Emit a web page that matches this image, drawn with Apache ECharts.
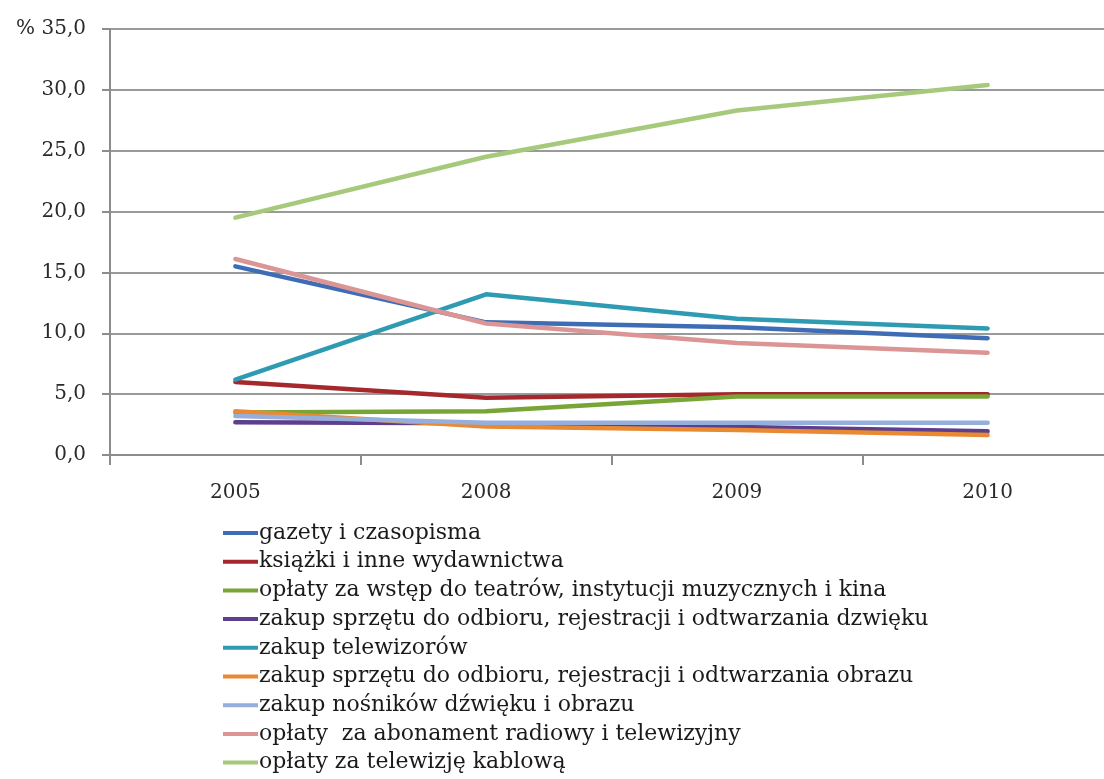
<!DOCTYPE html>
<html>
<head>
<meta charset="utf-8">
<title>Wydatki na kulturę</title>
<script src="https://cdn.jsdelivr.net/npm/echarts@6/dist/echarts.min.js"></script>
<style>
  html, body { margin: 0; padding: 0; background: #fff; overflow: hidden; }
  #chart { width: 1104px; height: 779px; }
</style>
</head>
<body>
<div id="chart"></div>
<script>
    'use strict';

    /*--------------- data -------------*/
    var years = ['2005', '2008', '2009', '2010'];

    var gazety      = [15.5, 10.9, 10.5, 9.6];
    var ksiazki     = [6.0, 4.7, 5.0, 5.0];
    var teatry      = [3.5, 3.6, 4.8, 4.8];
    var sprzetDzw   = [2.7, 2.6, 2.3, 1.95];
    var telewizory  = [6.2, 13.2, 11.2, 10.4];
    var sprzetObr   = [3.6, 2.35, 2.05, 1.65];
    var nosniki     = [3.2, 2.65, 2.65, 2.65];
    var abonament   = [16.1, 10.8, 9.2, 8.4];
    var kablowa     = [19.5, 24.5, 28.3, 30.4];

    var yTicks = [0, 5, 10, 15, 20, 25, 30, 35];

    var seriesNames = [
        'gazety i czasopisma',
        'książki i inne wydawnictwa',
        'opłaty za wstęp do teatrów, instytucji muzycznych i kina',
        'zakup sprzętu do odbioru, rejestracji i odtwarzania dzwięku',
        'zakup telewizorów',
        'zakup sprzętu do odbioru, rejestracji i odtwarzania obrazu',
        'zakup nośników dźwięku i obrazu',
        'opłaty  za abonament radiowy i telewizyjny',
        'opłaty za telewizję kablową'
    ];
    var seriesData = [gazety, ksiazki, teatry, sprzetDzw, telewizory, sprzetObr, nosniki, abonament, kablowa];
    var colors = ['#3E6DB5', '#A5282C', '#77A536', '#5E3F8E', '#2F9BB3', '#E98A33', '#95AEDC', '#DA9594', '#A7C97B'];

    var serif = '"DejaVu Serif", "Liberation Serif", serif';

    var myChart = echarts.init(document.getElementById('chart'));

    var series = seriesNames.map(function(name, i) {
        return {
            name: name,
            type: 'line',
            data: seriesData[i],
            smooth: false,
            showSymbol: false,
            symbol: 'none',
            lineStyle: { width: 4.5, color: colors[i], cap: 'round', join: 'round' },
            itemStyle: { color: colors[i] }
        };
    });

    var option = {
        animation: false,
        backgroundColor: '#fff',
        color: colors,
        // plot runs past the right edge of the picture, like the cropped original
        grid: { left: 110, top: 29, width: 1003, bottom: 324, outerBoundsMode: 'none', containLabel: false },
        legend: {
            orient: 'vertical',
            left: 223,
            top: 522,
            height: 257,
            icon: 'rect',
            itemWidth: 35,
            itemHeight: 4,
            itemGap: 6.7,
            padding: 0,
            textStyle: {
                fontFamily: serif,
                fontSize: 22,
                lineHeight: 20,
                color: '#1a1a1a',
                padding: [0, 0, 0, -4]
            },
            data: seriesNames
        },
        xAxis: {
            type: 'category',
            data: years,
            boundaryGap: true,
            axisLine: { lineStyle: { color: '#8c8c8c', width: 2 } },
            axisTick: { show: true, length: 10, lineStyle: { color: '#8c8c8c', width: 2 } },
            axisLabel: { fontFamily: serif, fontSize: 20, color: '#2a2a2a', margin: 28 }
        },
        yAxis: {
            type: 'value',
            min: yTicks[0],
            max: yTicks[yTicks.length - 1],
            interval: 5,
            axisLine: { show: true, lineStyle: { color: '#8c8c8c', width: 2 } },
            axisTick: { show: true, length: 8, lineStyle: { color: '#8c8c8c', width: 2 } },
            splitLine: { lineStyle: { color: '#9a9a9a', width: 2 } },
            axisLabel: {
                fontFamily: serif,
                fontSize: 20,
                color: '#2a2a2a',
                margin: 24,
                formatter: function(v) {
                    var s = v.toFixed(1).replace('.', ',');
                    return v === 35 ? '% ' + s : s;
                }
            }
        },
        series: series
    };

    myChart.setOption(option);
</script>
</body>
</html>
